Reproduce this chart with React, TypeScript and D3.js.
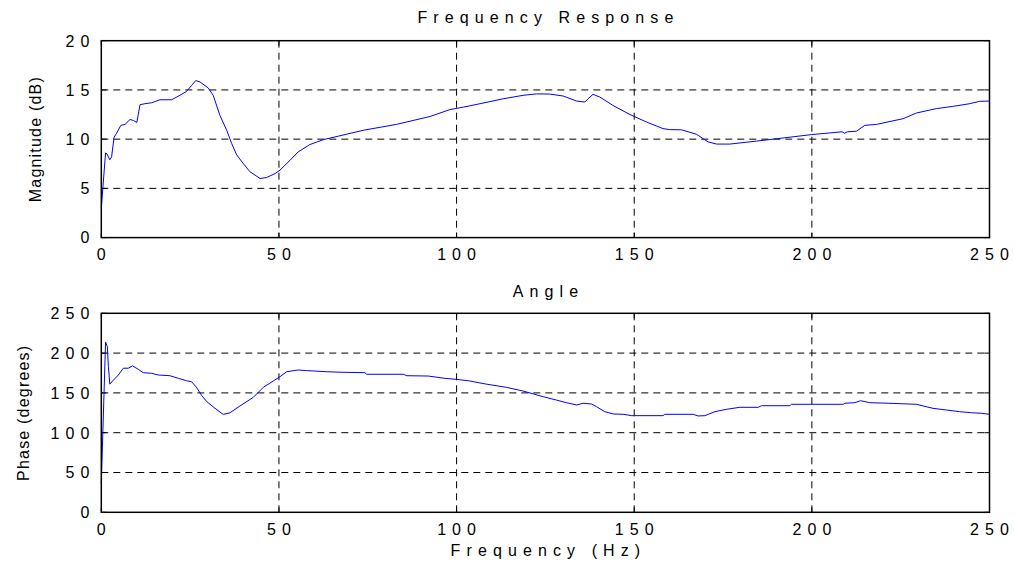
import React from "react";
import * as d3 from "d3";

const magFreq = [0, 1.2, 1.6, 2.4, 2.9, 3.6, 4.3, 5.5, 6.7, 8.1, 9.0, 10.0, 10.9, 12.3, 14.2, 16.5, 19.8, 22.1, 24.0, 25.4, 26.6, 27.8, 30.1, 31.5, 33.4, 35.3, 36.7, 38.1, 40.0, 41.8, 44.7, 46.5, 48.9, 50.3, 53.1, 55.4, 58.7, 62.5, 66.7, 73.7, 83.1, 92.5, 98.1, 101.9, 106.6, 113.1, 118.7, 122.5, 126.2, 130.0, 133.8, 136.1, 137.0, 138.4, 140.3, 144.0, 148.8, 153.4, 158.1, 160.0, 163.3, 167.5, 170.8, 173.2, 176.9, 184.4, 191.9, 199.9, 205.0, 208.5, 209.2, 210.0, 212.5, 214.9, 218.2, 225.7, 229.4, 235.0, 239.7, 244.4, 247.2, 250];
const magDb = [3.0, 8.6, 8.5, 7.9, 8.2, 10.2, 10.6, 11.4, 11.5, 12.0, 11.9, 11.7, 13.5, 13.6, 13.7, 14.0, 14.0, 14.45, 14.85, 15.45, 15.95, 15.8, 15.2, 14.45, 12.4, 10.9, 9.55, 8.4, 7.5, 6.7, 6.0, 6.1, 6.5, 6.85, 7.85, 8.7, 9.45, 9.95, 10.3, 10.9, 11.5, 12.3, 13.0, 13.25, 13.6, 14.1, 14.45, 14.6, 14.58, 14.38, 13.87, 13.77, 14.1, 14.55, 14.28, 13.43, 12.5, 11.75, 11.07, 10.97, 10.95, 10.5, 9.72, 9.5, 9.5, 9.8, 10.12, 10.46, 10.63, 10.75, 10.6, 10.75, 10.8, 11.4, 11.5, 12.08, 12.65, 13.1, 13.33, 13.6, 13.84, 13.87];

const phaseFreq = [0, 1.2, 1.7, 2.0, 2.4, 3.4, 4.8, 6.2, 7.6, 8.8, 10.4, 11.8, 14.2, 16.0, 19.3, 21.7, 24.0, 25.4, 26.8, 28.2, 29.7, 32.0, 34.3, 36.2, 39.0, 42.8, 45.6, 48.4, 50.3, 52.2, 55.4, 57.8, 63.4, 67.2, 74.2, 74.7, 85, 86, 92, 96.7, 100, 103.7, 108.4, 114, 118.7, 124.4, 128.1, 130.9, 133.8, 135.6, 138, 139.4, 141.7, 144.1, 146.9, 149.3, 158.1, 158.6, 166.6, 168, 169.9, 172.7, 176, 179.7, 184.9, 185.8, 193.8, 194.3, 208.8, 209.3, 212.1, 213.7, 216.3, 221.5, 229.4, 234.1, 237.9, 241.6, 244.9, 247.7, 250];
const phaseDeg = [36, 214, 208, 183, 161, 166, 172.5, 181, 181, 184, 179.6, 175.4, 174.6, 172.5, 171.6, 168.3, 165.3, 164, 157, 147, 139, 130.6, 123, 125, 133.5, 144.5, 157, 165, 170.4, 176.6, 178.8, 178, 176.6, 176, 175.4, 173.4, 173.4, 171.6, 171.2, 168.3, 167, 165, 161, 157, 152.4, 145.2, 141, 137.7, 134.8, 137, 136, 132.7, 126.4, 123.5, 123.1, 121.4, 121.4, 123.1, 123.1, 121, 121.4, 126.4, 129.4, 131.9, 131.9, 133.9, 133.9, 135.7, 135.7, 137, 137.7, 140.2, 137.7, 137, 135.7, 130.6, 128.5, 126.4, 125.1, 124.4, 123.1];

const xTicks = [0, 50, 100, 150, 200, 250];
const magTicks = [0, 5, 10, 15, 20];
const phaseTicks = [0, 50, 100, 150, 200, 250];

const FONT = "'Liberation Sans', Arial, Helvetica, sans-serif";
const LS = 6.1;
const FS = 16;

type PanelProps = {
  top: number;
  bottom: number;
  yMax: number;
  yTicks: number[];
  xs: number[];
  ys: number[];
  title: string;
  titleY: number;
  yLabel: string;
  yLabelX: number;
};

const LEFT = 101.3;
const RIGHT = 989.5;

function Panel(p: PanelProps) {
  const x = d3.scaleLinear().domain([0, 250]).range([LEFT, RIGHT]);
  const y = d3.scaleLinear().domain([0, p.yMax]).range([p.bottom, p.top]);
  const pts: [number, number][] = p.xs.map((v, i) => [v, p.ys[i]]);
  const line = d3
    .line<[number, number]>()
    .x((d) => x(d[0]))
    .y((d) => y(d[1]));
  const tk = 5;
  return (
    <g>
      {xTicks.slice(1, -1).map((t) => (
        <line key={"gx" + t} x1={x(t)} x2={x(t)} y1={p.top} y2={p.bottom} stroke="#000" strokeWidth={1} strokeDasharray="7,5" />
      ))}
      {p.yTicks.slice(1, -1).map((t) => (
        <line key={"gy" + t} x1={LEFT} x2={RIGHT} y1={y(t)} y2={y(t)} stroke="#000" strokeWidth={1} strokeDasharray="7,5" />
      ))}
      {xTicks.map((t) => (
        <g key={"tx" + t}>
          <line x1={x(t)} x2={x(t)} y1={p.bottom} y2={p.bottom - tk} stroke="#000" strokeWidth={1} />
          <line x1={x(t)} x2={x(t)} y1={p.top} y2={p.top + tk} stroke="#000" strokeWidth={1} />
          <text x={x(t) + LS / 2} y={p.bottom + 22.5} textAnchor="middle" fontSize={FS} letterSpacing={LS} fontFamily={FONT} fill="#000">
            {t}
          </text>
        </g>
      ))}
      {p.yTicks.map((t) => (
        <g key={"ty" + t}>
          <line x1={LEFT} x2={LEFT + tk} y1={y(t)} y2={y(t)} stroke="#000" strokeWidth={1} />
          <line x1={RIGHT} x2={RIGHT - tk} y1={y(t)} y2={y(t)} stroke="#000" strokeWidth={1} />
          <text x={89.5 + LS} y={y(t) + 5.8} textAnchor="end" fontSize={FS} letterSpacing={LS} fontFamily={FONT} fill="#000">
            {t}
          </text>
        </g>
      ))}
      <path d={line(pts) || ""} fill="none" stroke="#0000ff" strokeWidth={1} />
      <rect x={LEFT} y={p.top} width={RIGHT - LEFT} height={p.bottom - p.top} fill="none" stroke="#000" strokeWidth={1.5} />
      <text x={(LEFT + RIGHT) / 2 + LS / 2} y={p.titleY} textAnchor="middle" fontSize={FS} letterSpacing={LS} fontFamily={FONT} fill="#000">
        {p.title}
      </text>
      <text
        transform={`translate(${p.yLabelX},${(p.top + p.bottom) / 2}) rotate(-90)`}
        textAnchor="middle"
        fontSize={16}
        letterSpacing={1.2}
        fontFamily={FONT}
        fill="#000"
      >
        {p.yLabel}
      </text>
    </g>
  );
}

export default function App() {
  return (
    <svg
      width={1014}
      height={563}
      style={{ position: "absolute", left: 0, top: 0, background: "#fff" }}
    >
      <rect x={0} y={0} width={1014} height={563} fill="#fff" />
      <Panel
        top={40.7}
        bottom={237.6}
        yMax={20}
        yTicks={magTicks}
        xs={magFreq}
        ys={magDb}
        title="Frequency Response"
        titleY={23}
        yLabel="Magnitude (dB)"
        yLabelX={40.5}
      />
      <Panel
        top={313.3}
        bottom={512.3}
        yMax={250}
        yTicks={phaseTicks}
        xs={phaseFreq}
        ys={phaseDeg}
        title="Angle"
        titleY={297}
        yLabel="Phase (degrees)"
        yLabelX={28.5}
      />
      <text x={(LEFT + RIGHT) / 2 + LS / 2} y={556} textAnchor="middle" fontSize={FS} letterSpacing={LS} fontFamily={FONT} fill="#000">
        Frequency (Hz)
      </text>
    </svg>
  );
}
